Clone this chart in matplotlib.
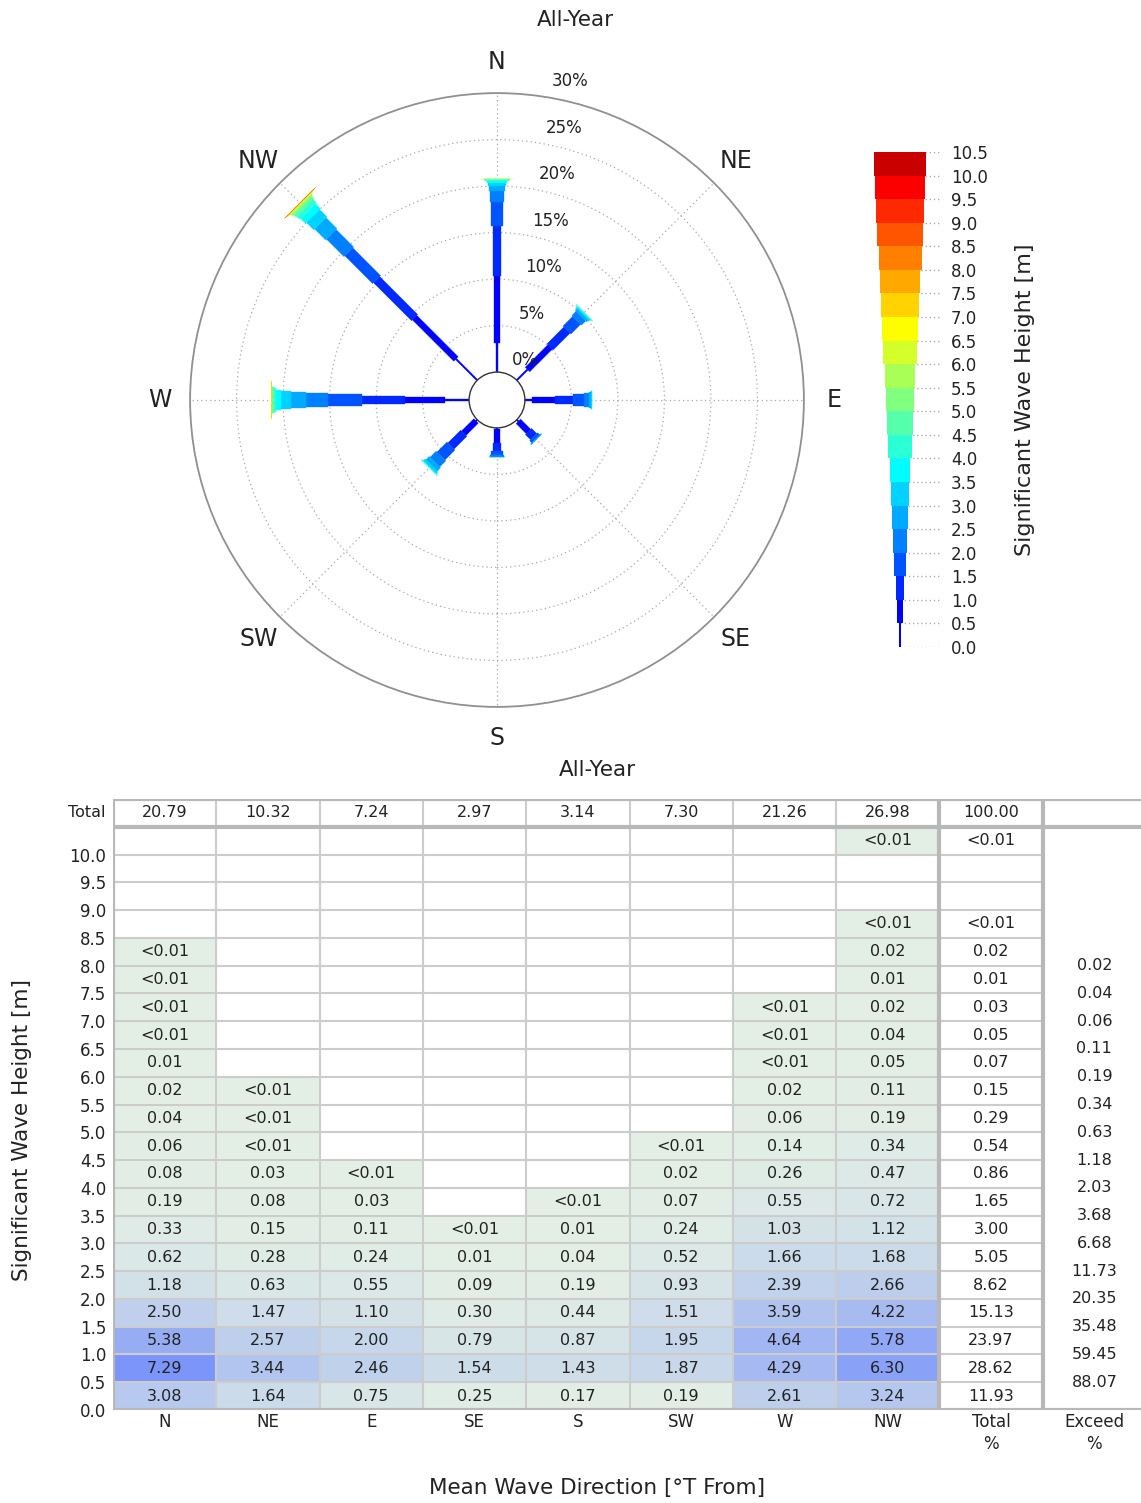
import numpy as np
import matplotlib
matplotlib.use("Agg")
import matplotlib.pyplot as plt
from matplotlib.colors import LinearSegmentedColormap
from matplotlib.patches import Polygon, Circle

plt.rcParams["font.family"] = "DejaVu Sans"
TXT = "#222222"

# ======================
# Daten (Hs-Klassen 0.0-0.5 ... 10.0-10.5, Werte in %)
# ======================
LT = 0.003  # steht fuer "<0.01"

directions = ["N", "NE", "E", "SE", "S", "SW", "W", "NW"]
hs_ticks = [0.0, 0.5, 1.0, 1.5, 2.0, 2.5, 3.0, 3.5, 4.0, 4.5, 5.0,
            5.5, 6.0, 6.5, 7.0, 7.5, 8.0, 8.5, 9.0, 9.5, 10.0, 10.5]

freq_n = [3.08, 7.29, 5.38, 2.50, 1.18, 0.62, 0.33, 0.19, 0.08, 0.06, 0.04,
          0.02, 0.01, LT, LT, LT, LT, None, None, None, None]
freq_ne = [1.64, 3.44, 2.57, 1.47, 0.63, 0.28, 0.15, 0.08, 0.03, LT, LT,
           LT, None, None, None, None, None, None, None, None, None]
freq_e = [0.75, 2.46, 2.00, 1.10, 0.55, 0.24, 0.11, 0.03, LT, None, None,
          None, None, None, None, None, None, None, None, None, None]
freq_se = [0.25, 1.54, 0.79, 0.30, 0.09, 0.01, LT, None, None, None, None,
           None, None, None, None, None, None, None, None, None, None]
freq_s = [0.17, 1.43, 0.87, 0.44, 0.19, 0.04, 0.01, LT, None, None, None,
          None, None, None, None, None, None, None, None, None, None]
freq_sw = [0.19, 1.87, 1.95, 1.51, 0.93, 0.52, 0.24, 0.07, 0.02, LT, None,
           None, None, None, None, None, None, None, None, None, None]
freq_w = [2.61, 4.29, 4.64, 3.59, 2.39, 1.66, 1.03, 0.55, 0.26, 0.14, 0.06,
          0.02, LT, LT, LT, None, None, None, None, None, None]
freq_nw = [3.24, 6.30, 5.78, 4.22, 2.66, 1.68, 1.12, 0.72, 0.47, 0.34, 0.19,
           0.11, 0.05, 0.04, 0.02, 0.01, 0.02, LT, None, None, LT]
freq_total = [11.93, 28.62, 23.97, 15.13, 8.62, 5.05, 3.00, 1.65, 0.86, 0.54, 0.29,
              0.15, 0.07, 0.05, 0.03, 0.01, 0.02, LT, None, None, LT]

dir_totals = [20.79, 10.32, 7.24, 2.97, 3.14, 7.30, 21.26, 26.98]
grand_total = 100.00

exceed_levels = [0.5, 1.0, 1.5, 2.0, 2.5, 3.0, 3.5, 4.0,
                 4.5, 5.0, 5.5, 6.0, 6.5, 7.0, 7.5, 8.0]
exceed_pct = [88.07, 59.45, 35.48, 20.35, 11.73, 6.68, 3.68, 2.03,
              1.18, 0.63, 0.34, 0.19, 0.11, 0.06, 0.04, 0.02]

freqs = [freq_n, freq_ne, freq_e, freq_se, freq_s, freq_sw, freq_w, freq_nw]


def fmt(v):
    if v is None:
        return ""
    if v < 0.01:
        return "<0.01"
    return f"{v:.2f}"


# Farben
hs_cmap = LinearSegmentedColormap.from_list(
    "hs", [(0.0, "#0000ff"), (0.05, "#0000ff"), (0.35, "#00ffff"),
           (0.65, "#ffff00"), (0.95, "#ff0000"), (1.0, "#c80000")])
n_bins = len(hs_ticks) - 1
bin_colors = [hs_cmap(i / (n_bins - 1)) for i in range(n_bins)]
cell_cmap = LinearSegmentedColormap.from_list("cell", ["#e3efe5", "#7b95fa"])


def bin_width_px(i):
    # erste Klasse nur als duenne Linie
    if i == 0:
        return 1.6
    return 2.45 * i + 3.8


W, H = 1141, 1503
fig = plt.figure(figsize=(W / 100, H / 100), dpi=100)

# ======================
# Rose
# ======================
PX = 9.3      # Pixel pro Prozent
HOLE = 3.0    # innerer Kreis
LIM = 38
cx, cy = 497, 400
rose = fig.add_axes([(cx - LIM * PX) / W, 1 - (cy + LIM * PX) / H,
                     2 * LIM * PX / W, 2 * LIM * PX / H])
rose.set_xlim(-LIM, LIM)
rose.set_ylim(-LIM, LIM)
rose.set_aspect("equal")
rose.axis("off")

for p in [5, 10, 15, 20, 25]:
    rose.add_patch(Circle((0, 0), HOLE + p, fill=False, ec="#a8a8a8",
                          lw=0.9, ls=(0, (1, 2.5)), zorder=1))
rose.add_patch(Circle((0, 0), HOLE + 30, fill=False, ec="#909090", lw=1.3, zorder=1))

for k in range(8):
    th = np.deg2rad(k * 45)
    rose.plot([HOLE * np.sin(th), (HOLE + 30) * np.sin(th)],
              [HOLE * np.cos(th), (HOLE + 30) * np.cos(th)],
              color="#a8a8a8", lw=0.9, ls=(0, (1, 2.5)), zorder=1)
    rose.text(36.3 * np.sin(th), 36.3 * np.cos(th), directions[k],
              ha="center", va="center", fontsize=17, color=TXT)

for p in [0, 5, 10, 15, 20, 25, 30]:
    rose.text(1.6 + 0.144 * p, HOLE + p + 1.3, f"{p}%", ha="left", va="center",
              fontsize=12, color=TXT, zorder=5)

for k, f in enumerate(freqs):
    th = np.deg2rad(k * 45)
    u = np.array([np.sin(th), np.cos(th)])
    v = np.array([np.cos(th), -np.sin(th)])
    r = HOLE
    for i, val in enumerate(f):
        if val is None:
            continue
        hw = bin_width_px(i) / PX / 2
        r1 = r + val
        pts = [r * u - hw * v, r1 * u - hw * v, r1 * u + hw * v, r * u + hw * v]
        edge = 0.25 if val >= 0.01 else 0
        rose.add_patch(Polygon(pts, closed=True, fc=bin_colors[i], ec=bin_colors[i],
                               lw=edge, zorder=3))
        r = r1

rose.add_patch(Circle((0, 0), HOLE, fc="white", ec="#333333", lw=1.0, zorder=4))

# ======================
# Farbskala
# ======================
cb = fig.add_axes([860 / W, 1 - 647 / H, 80 / W, 495 / H])
cb.set_xlim(-40, 40)
cb.set_ylim(0, 10.5)
for s in cb.spines.values():
    s.set_visible(False)
cb.set_xticks([])
cb.hlines(hs_ticks, 0, 40, colors="#aaaaaa", lw=1, linestyles=(0, (1, 2)), zorder=0)
for i in range(n_bins):
    cb.bar(0, hs_ticks[i + 1] - hs_ticks[i], bottom=hs_ticks[i],
           width=bin_width_px(i), color=bin_colors[i], zorder=2)
cb.yaxis.tick_right()
cb.set_yticks(hs_ticks)
cb.set_yticklabels([f"{t:.1f}" for t in hs_ticks], fontsize=12, color=TXT)
cb.tick_params(axis="y", length=0, pad=8)
fig.text(1025 / W, 1 - 400 / H, "Significant Wave Height [m]", rotation=90,
         ha="center", va="center", fontsize=16, color=TXT)

fig.text(575 / W, 1 - 20 / H, "All-Year", ha="center", va="center",
         fontsize=15.5, color=TXT)

# ======================
# Tabelle
# ======================
COLW = 103.3
tab = fig.add_axes([113 / W, 1 - 1410 / H, (W - 113) / W, 611 / H])
tab.set_xlim(0, (W - 113) / COLW)
tab.set_ylim(0, 11.0)
for s in tab.spines.values():
    s.set_visible(False)

cells = np.full((n_bins, 8), np.nan)
for j, f in enumerate(freqs):
    for i, val in enumerate(f):
        if val is not None:
            cells[i, j] = val
tab.pcolormesh(np.arange(9), hs_ticks, np.ma.masked_invalid(cells),
               cmap=cell_cmap, vmin=0, vmax=7.3, zorder=0)

thin = dict(colors="#cccccc", lw=1.5, zorder=1)
thick = dict(colors="#b8b8b8", lw=3, zorder=2)
tab.hlines(hs_ticks[1:-1], 0, 9, **thin)
tab.vlines(np.arange(1, 8), 0, 10.5, **thin)
tab.vlines(np.arange(1, 8), 10.5, 11.0, **thin)
tab.hlines([0, 10.5, 11.0], 0, 10, **thick)
tab.vlines([0, 8, 9], 0, 11.0, **thick)

for j, f in enumerate(freqs + [freq_total]):
    for i, val in enumerate(f):
        if val is not None:
            tab.text(j + 0.5, hs_ticks[i] + 0.25, fmt(val), ha="center", va="center",
                     fontsize=11.5, color=TXT, zorder=3)

for j, t in enumerate(dir_totals + [grand_total]):
    tab.text(j + 0.5, 10.75, f"{t:.2f}", ha="center", va="center",
             fontsize=11.5, color=TXT)
tab.text(-0.07, 10.75, "Total", ha="right", va="center", fontsize=11.5, color=TXT)

for lev, e in zip(exceed_levels, exceed_pct):
    tab.text(9.5, lev, f"{e:.2f}", ha="center", va="center", fontsize=11.5, color=TXT)

tab.set_yticks(hs_ticks[:-1])
tab.set_yticklabels([f"{t:.1f}" for t in hs_ticks[:-1]], fontsize=12, color=TXT)
tab.set_xticks(np.arange(10) + 0.5)
tab.set_xticklabels(directions + ["Total\n%", "Exceed\n%"], fontsize=12, color=TXT,
                    va="top")
for lbl in tab.get_xticklabels():
    lbl.set_linespacing(1.3)
tab.tick_params(length=0)
tab.tick_params(axis="y", pad=5)
tab.tick_params(axis="x", pad=2)

fig.text(597 / W, 1 - 770 / H, "All-Year", ha="center", va="center",
         fontsize=15.5, color=TXT)
fig.text(22 / W, 1 - 1130 / H, "Significant Wave Height [m]", rotation=90,
         ha="center", va="center", fontsize=15.5, color=TXT)
fig.text(597 / W, 1 - 1488 / H, "Mean Wave Direction [°T From]", ha="center",
         va="center", fontsize=15.5, color=TXT)

fig.savefig("out.png", dpi=100)
